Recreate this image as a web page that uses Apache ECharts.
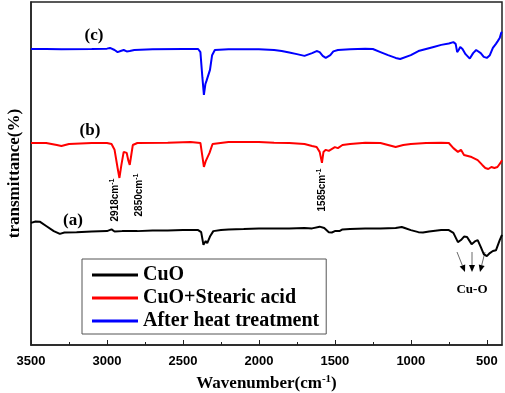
<!DOCTYPE html>
<html>
<head>
    <meta charset="utf-8">
    <script src="https://cdn.jsdelivr.net/npm/echarts@6/dist/echarts.min.js"></script>
</head>
<body style="margin:0">
    <div id="main" style="width: 505px;height:393px;"></div>
    <script type="text/javascript">
        // spectrum (a) CuO
        var aWave = [3500, 3470, 3440, 3400, 3350, 3310, 3280, 3200, 3100, 3000, 2970, 2950, 2900, 2800, 2700, 2600, 2500, 2400,
            2380, 2365, 2350, 2340, 2320, 2300, 2250, 2200, 2100, 2000, 1900, 1800, 1700, 1650, 1600, 1570, 1540, 1520, 1500,
            1470, 1450, 1400, 1300, 1200, 1100, 1060, 1040, 1000, 950, 920, 880, 800, 750, 720, 690, 670, 650, 630, 600, 590,
            575, 560, 540, 520, 500, 480, 460, 440, 430, 415, 400];
        var aTrans = [35.6, 36.0, 35.9, 34.7, 33.2, 32.4, 32.8, 32.9, 33.1, 33.2, 33.7, 33.1, 33.2, 33.2, 33.4, 33.4, 33.5, 33.5,
            32.9, 29.2, 30.3, 29.7, 31.8, 33.2, 33.5, 33.7, 33.8, 34.0, 34.0, 34.0, 34.1, 34.0, 34.5, 34.1, 32.9, 32.8, 33.2,
            33.2, 33.7, 33.8, 34.0, 34.0, 34.1, 34.4, 34.1, 33.5, 32.9, 32.8, 33.1, 33.5, 33.5, 32.7, 30.0, 30.6, 31.6, 31.5, 29.4, 29.2,
            30.3, 30.6, 28.6, 26.5, 25.9, 26.8, 27.4, 27.6, 27.4, 30.6, 32.1];
        // spectrum (b) CuO+Stearic acid
        var bWave = [3500, 3400, 3330, 3300, 3250, 3100, 3000, 2970, 2950, 2930, 2918, 2905, 2890, 2880, 2870, 2860, 2850, 2840,
            2830, 2800, 2600, 2450, 2385, 2372, 2362, 2350, 2340, 2325, 2305, 2200, 2100, 2000, 1900, 1800, 1700, 1650, 1620,
            1600, 1585, 1575, 1560, 1540, 1500, 1490, 1480, 1450, 1400, 1300, 1200, 1150, 1100, 1050, 1000, 900, 800, 750, 720,
            690, 670, 650, 600, 560, 530, 510, 490, 470, 450, 430, 410, 400];
        var bTrans = [58.9, 58.9, 58.3, 58.0, 58.6, 58.9, 58.9, 58.6, 56.9, 51.6, 48.7, 52.5, 56.3, 56.6, 56.0, 53.9, 52.5, 55.4,
            58.3, 58.9, 59.0, 59.2, 58.9, 55.0, 51.9, 53.6, 53.4, 56.0, 58.6, 59.2, 59.2, 59.2, 59.0, 58.9, 58.6, 58.0, 57.7,
            56.3, 53.1, 56.3, 56.9, 56.6, 57.7, 58.0, 57.4, 58.3, 58.6, 59.0, 58.9, 58.3, 57.7, 58.3, 58.6, 58.9, 59.0, 58.9, 57.4,
            56.3, 56.9, 55.4, 54.8, 53.9, 52.5, 51.6, 51.3, 51.9, 51.6, 51.9, 53.1, 53.9];
        // spectrum (c) after heat treatment
        var cWave = [3500, 3400, 3300, 3100, 3000, 2980, 2950, 2930, 2910, 2890, 2870, 2850, 2820, 2700, 2500, 2400, 2385, 2372,
            2362, 2352, 2345, 2335, 2322, 2308, 2290, 2200, 2100, 2000, 1900, 1850, 1800, 1750, 1700, 1650, 1620, 1600, 1580,
            1560, 1530, 1510, 1480, 1400, 1350, 1300, 1250, 1200, 1150, 1100, 1070, 1000, 950, 900, 850, 800, 750, 720, 705,
            695, 685, 675, 660, 640, 612, 590, 570, 540, 520, 500, 480, 460, 440, 428, 415, 405, 400];
        var cTrans = [86.3, 86.3, 86.2, 86.3, 86.4, 86.6, 86.0, 85.4, 85.7, 86.0, 85.6, 85.7, 86.0, 86.2, 86.3, 86.3, 85.4, 78.0,
            72.9, 76.1, 77.0, 76.7, 80.2, 84.5, 86.0, 86.2, 86.2, 86.2, 86.0, 85.7, 85.3, 84.8, 84.3, 85.1, 85.7, 85.4, 84.3,
            83.7, 84.5, 85.6, 86.0, 86.2, 86.3, 86.4, 86.3, 85.4, 84.5, 83.7, 83.4, 84.5, 85.7, 86.3, 86.9, 87.5, 87.9, 88.3, 87.8,
            85.4, 86.0, 86.9, 86.3, 84.8, 83.5, 85.1, 86.0, 85.1, 84.0, 83.7, 84.5, 86.6, 87.8, 88.6, 89.5, 91.0, 91.3];

        var seriesNames = ['CuO', 'CuO+Stearic acid', 'After heat treatment'];
        var seriesColors = ['#000000', '#ff0000', '#0000ff'];
        var majorTicks = [500, 1000, 1500, 2000, 2500, 3000, 3500];
        var minorTicks = [750, 1250, 1750, 2250, 2750, 3250];

        function pairs(w, t) {
            var res = [];
            for (var i = 0; i < w.length; i++) {
                res.push([w[i], t[i]]);
            }
            return res;
        }

        var serif = 'Liberation Serif';
        var sans = 'Liberation Sans';

        function peakLabel(x, y, txt) {
            return {
                type: 'text',
                x: x,
                y: y,
                rotation: Math.PI / 2,
                style: {
                    text: '{a|' + txt + '}{s|-1}',
                    align: 'center',
                    verticalAlign: 'middle',
                    rich: {
                        a: { fontFamily: sans, fontSize: 10, fontWeight: 'bold', fill: '#000' },
                        s: { fontFamily: sans, fontSize: 7, fontWeight: 'bold', fill: '#000', verticalAlign: 'top', padding: [0, 0, 6, 0] }
                    }
                }
            };
        }

        function arrow(x1, y1, x2, y2) {
            var ang = Math.atan2(y2 - y1, x2 - x1);
            var L = 7, W = 3;
            var bx = x2 - L * Math.cos(ang), by = y2 - L * Math.sin(ang);
            return [{
                type: 'line',
                shape: { x1: x1, y1: y1, x2: bx, y2: by },
                style: { stroke: '#444', lineWidth: 0.8 }
            }, {
                type: 'polygon',
                shape: {
                    points: [[x2, y2],
                        [bx + W * Math.sin(ang), by - W * Math.cos(ang)],
                        [bx - W * Math.sin(ang), by + W * Math.cos(ang)]]
                },
                style: { fill: '#000' }
            }];
        }

        var myChart = echarts.init(document.getElementById('main'));
        var graphics = [
            { type: 'text', x: 94, y: 36, style: { text: '(c)', font: 'bold 17px "Liberation Serif"', fill: '#000', align: 'center', verticalAlign: 'middle' } },
            { type: 'text', x: 90, y: 131, style: { text: '(b)', font: 'bold 17px "Liberation Serif"', fill: '#000', align: 'center', verticalAlign: 'middle' } },
            { type: 'text', x: 73, y: 221, style: { text: '(a)', font: 'bold 17px "Liberation Serif"', fill: '#000', align: 'center', verticalAlign: 'middle' } },
            peakLabel(115, 200, '2918cm'),
            peakLabel(139, 195, '2850cm'),
            peakLabel(322, 190, '1585cm'),
            { type: 'text', x: 472, y: 290, style: { text: 'Cu-O', font: 'bold 13px "Liberation Serif"', fill: '#000', align: 'center', verticalAlign: 'middle' } }
        ].concat(arrow(457, 252, 465, 272), arrow(472, 252, 472, 272), arrow(485, 252, 480, 272));

        option = {
            animation: false,
            grid: {
                left: 31,
                right: 3,
                top: 2,
                bottom: 48,
                outerBoundsMode: 'none',
                show: true,
                borderColor: '#222',
                borderWidth: 1.5
            },
            legend: {
                left: 82,
                top: 259,
                orient: 'vertical',
                data: seriesNames,
                icon: 'rect',
                itemWidth: 46,
                itemHeight: 3,
                itemGap: 3,
                padding: [6, 7, 3, 10],
                borderColor: '#555',
                borderWidth: 1,
                textStyle: {
                    fontFamily: serif,
                    fontWeight: 'bold',
                    fontSize: 20,
                    lineHeight: 20,
                    color: '#000'
                }
            },
            xAxis: [{
                type: 'value',
                inverse: true,
                min: 400,
                max: 3500,
                name: '{a|Wavenumber(cm}{s|-1}{a|)}',
                nameLocation: 'middle',
                nameGap: 29,
                nameTextStyle: {
                    rich: {
                        a: { fontFamily: serif, fontWeight: 'bold', fontSize: 17, color: '#000' },
                        s: { fontFamily: serif, fontWeight: 'bold', fontSize: 11, color: '#000', verticalAlign: 'top', padding: [0, 0, 8, 0] }
                    }
                },
                axisLine: { lineStyle: { color: '#222', width: 1.5 } },
                axisTick: { inside: true, length: 5, customValues: majorTicks, lineStyle: { color: '#222' } },
                axisLabel: {
                    customValues: majorTicks,
                    formatter: function (v) { return String(v); },
                    margin: 10,
                    fontFamily: sans,
                    fontWeight: 'bold',
                    fontSize: 13,
                    color: '#000'
                },
                splitLine: { show: false }
            }, {
                type: 'value',
                inverse: true,
                min: 400,
                max: 3500,
                position: 'bottom',
                axisLine: { show: false },
                axisTick: { inside: true, length: 3, customValues: minorTicks, lineStyle: { color: '#222' } },
                axisLabel: { show: false },
                splitLine: { show: false }
            }],
            yAxis: {
                type: 'value',
                min: 0,
                max: 100,
                name: 'transmittance(%)',
                nameLocation: 'middle',
                nameGap: 8,
                nameTextStyle: { fontFamily: serif, fontWeight: 'bold', fontSize: 17, color: '#000' },
                axisLine: { show: true, lineStyle: { color: '#222', width: 1.5 } },
                axisTick: { show: false },
                axisLabel: { show: false },
                splitLine: { show: false }
            },
            graphic: graphics,
            series: [{
                name: seriesNames[0],
                type: 'line',
                symbol: 'none',
                data: pairs(aWave, aTrans),
                lineStyle: { color: seriesColors[0], width: 2 },
                itemStyle: { color: seriesColors[0] }
            }, {
                name: seriesNames[1],
                type: 'line',
                symbol: 'none',
                data: pairs(bWave, bTrans),
                lineStyle: { color: seriesColors[1], width: 2 },
                itemStyle: { color: seriesColors[1] }
            }, {
                name: seriesNames[2],
                type: 'line',
                symbol: 'none',
                data: pairs(cWave, cTrans),
                lineStyle: { color: seriesColors[2], width: 2 },
                itemStyle: { color: seriesColors[2] }
            }]
        };
        myChart.setOption(option);
    </script>
</body>
</html>
